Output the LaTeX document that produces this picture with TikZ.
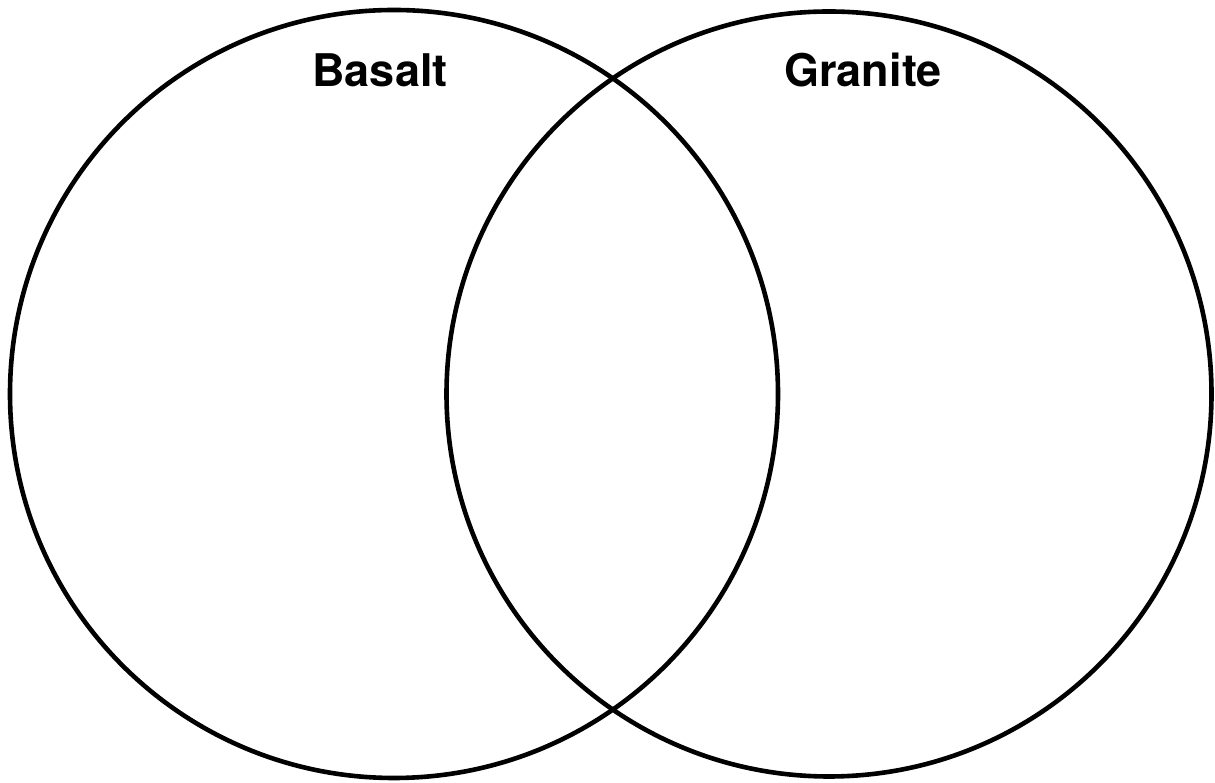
\documentclass[tikz,border=0pt]{standalone}
\usepackage{fontspec}
\setmainfont{TeX Gyre Heros}
\tikzset{
  venn/.style={draw=black, line width=4.6pt},
  lbl/.style={font=\fontsize{45}{50}\selectfont\bfseries, inner sep=0pt, anchor=base}
}
\begin{document}
\begin{tikzpicture}[x=1pt,y=1pt]
\useasboundingbox (0,0) rectangle (1215,783);
\node[venn, circle, minimum size=768pt, inner sep=0pt] (basaltc) at (394,389) {};
\node[venn, circle, minimum size=765pt, inner sep=0pt] (granitec) at (829,389) {};
\node[lbl] (basalt) at (380,696) {Basalt};
\node[lbl] (granite) at (863,696) {Granite};
\end{tikzpicture}
\end{document}
